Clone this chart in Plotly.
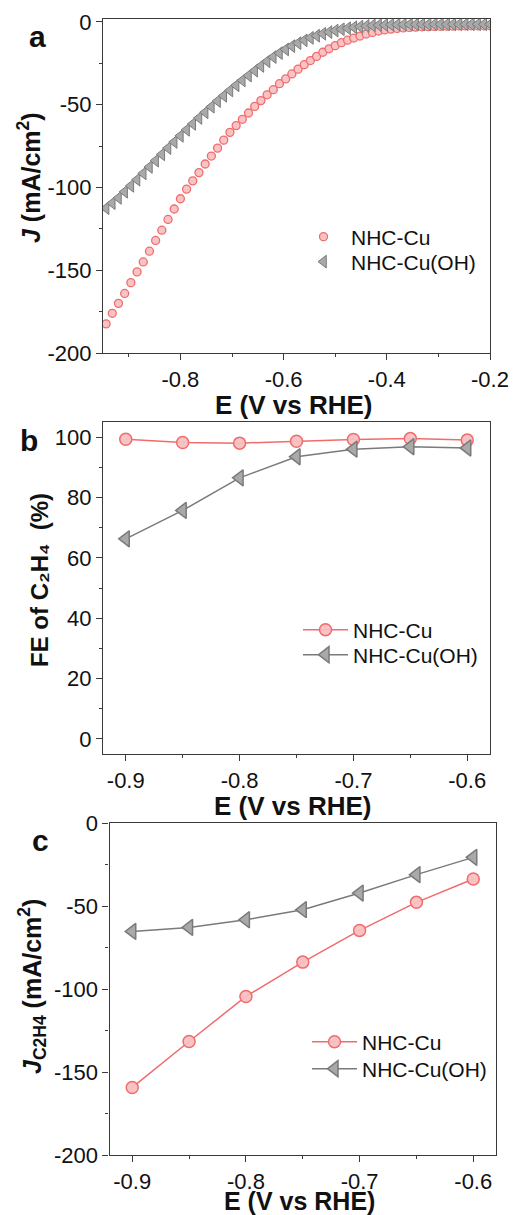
import plotly.graph_objects as go

W, H = 514, 1215

# ---------------- Data ----------------
# Panel a: LSV curves
E_lsv = [-0.944, -0.932, -0.920, -0.908, -0.896, -0.884, -0.872, -0.860, -0.848, -0.836,
         -0.824, -0.812, -0.800, -0.788, -0.776, -0.764, -0.752, -0.740, -0.728, -0.716,
         -0.704, -0.692, -0.680, -0.668, -0.656, -0.644, -0.632, -0.620, -0.608, -0.596,
         -0.584, -0.572, -0.560, -0.548, -0.536, -0.524, -0.512, -0.500, -0.488, -0.476,
         -0.464, -0.452, -0.440, -0.428, -0.416, -0.404, -0.392, -0.380, -0.368, -0.356,
         -0.344, -0.332, -0.320, -0.308, -0.296, -0.284, -0.272, -0.260, -0.248, -0.236,
         -0.224, -0.212, -0.200]
J_nhc_cu = [-182.4, -176.0, -170.0, -164.0, -157.5, -151.0, -145.0, -138.5, -132.0, -125.8,
            -119.3, -113.0, -106.8, -101.0, -96.0, -91.0, -85.8, -81.0, -76.2, -71.4,
            -66.7, -62.6, -58.8, -55.0, -51.0, -47.5, -44.0, -40.9, -37.3, -34.4,
            -31.4, -28.5, -25.8, -23.3, -20.8, -18.3, -16.2, -14.3, -12.5, -11.0,
            -9.7, -8.5, -7.3, -6.3, -5.5, -4.8, -4.3, -3.9, -3.6, -3.3,
            -3.1, -2.9, -2.8, -2.7, -2.6, -2.5, -2.5, -2.4, -2.4, -2.3,
            -2.3, -2.3, -2.3]
J_nhc_cuoh = [-112.5, -109.5, -106.3, -102.6, -99.0, -95.3, -91.5, -87.6, -83.8, -80.0,
              -76.2, -72.5, -68.8, -65.2, -61.6, -58.0, -54.6, -51.2, -47.8, -44.6,
              -41.4, -38.3, -35.3, -32.4, -29.4, -26.6, -23.8, -21.2, -18.8, -16.6,
              -14.6, -12.8, -11.1, -9.6, -8.3, -7.1, -6.1, -5.2, -4.4, -3.8,
              -3.2, -2.8, -2.4, -2.1, -1.9, -1.8, -1.7, -1.6, -1.6, -1.5,
              -1.5, -1.5, -1.5, -1.4, -1.4, -1.4, -1.4, -1.4, -1.4, -1.4,
              -1.4, -1.4, -1.4]

# Panels b and c
E_pts = [-0.90, -0.85, -0.80, -0.75, -0.70, -0.65, -0.60]
FE_nhc_cu = [99.3, 98.2, 98.0, 98.6, 99.2, 99.5, 99.0]
FE_nhc_cuoh = [66.3, 75.7, 86.5, 93.5, 96.0, 96.8, 96.4]
Jc2h4_nhc_cu = [-159.3, -131.6, -104.5, -83.8, -64.7, -47.8, -33.7]
Jc2h4_nhc_cuoh = [-65.3, -62.9, -58.3, -52.2, -42.2, -31.1, -20.7]

series_names = ["NHC-Cu", "NHC-Cu(OH)"]

# Tick labels
xa_ticks = [-0.8, -0.6, -0.4, -0.2]
xa_text = ["-0.8", "-0.6", "-0.4", "-0.2"]
ya_ticks = [-200, -150, -100, -50, 0]
ya_text = ["-200", "-150", "-100", "-50", "0"]
xb_ticks = [-0.9, -0.8, -0.7, -0.6]
xb_text = ["-0.9", "-0.8", "-0.7", "-0.6"]
yb_ticks = [0, 20, 40, 60, 80, 100]
yb_text = ["0", "20", "40", "60", "80", "100"]
yc_ticks = [-200, -150, -100, -50, 0]
yc_text = ["-200", "-150", "-100", "-50", "0"]

# ---------------- Styles ----------------
RED_LINE = "#f06c6c"
RED_FILL = "rgba(248,192,194,0.95)"
GREY_LINE = "#7a7a7a"
GREY_FILL = "#a9a9a9"
FONT = "Arial, Liberation Sans, Helvetica, sans-serif"
AXC = "#3a3a3a"


def px_x(p):
    return p / W


def px_y(p):
    return 1 - p / H


fig = go.Figure()

# Panel a
fig.add_trace(go.Scatter(x=E_lsv, y=J_nhc_cu, mode="markers", name=series_names[0],
                         marker=dict(symbol="circle", size=8, color=RED_FILL,
                                     line=dict(color=RED_LINE, width=1.3)),
                         xaxis="x", yaxis="y", legend="legend"))
fig.add_trace(go.Scatter(x=E_lsv, y=J_nhc_cuoh, mode="markers", name=series_names[1],
                         marker=dict(symbol="triangle-left", size=11, color=GREY_FILL,
                                     line=dict(color=GREY_LINE, width=1)),
                         xaxis="x", yaxis="y", legend="legend4"))
# Panel b
fig.add_trace(go.Scatter(x=E_pts, y=FE_nhc_cu, mode="lines+markers", name=series_names[0],
                         line=dict(color=RED_LINE, width=1.5),
                         marker=dict(symbol="circle", size=12, color=RED_FILL,
                                     line=dict(color=RED_LINE, width=1.5)),
                         xaxis="x2", yaxis="y2", legend="legend2"))
fig.add_trace(go.Scatter(x=E_pts, y=FE_nhc_cuoh, mode="lines+markers", name=series_names[1],
                         line=dict(color=GREY_LINE, width=1.5),
                         marker=dict(symbol="triangle-left", size=14, color=GREY_FILL,
                                     line=dict(color=GREY_LINE, width=1.5)),
                         xaxis="x2", yaxis="y2", legend="legend5"))
# Panel c
fig.add_trace(go.Scatter(x=E_pts, y=Jc2h4_nhc_cu, mode="lines+markers", name=series_names[0],
                         line=dict(color=RED_LINE, width=1.5),
                         marker=dict(symbol="circle", size=12, color=RED_FILL,
                                     line=dict(color=RED_LINE, width=1.5)),
                         xaxis="x3", yaxis="y3", legend="legend3"))
fig.add_trace(go.Scatter(x=E_pts, y=Jc2h4_nhc_cuoh, mode="lines+markers", name=series_names[1],
                         line=dict(color=GREY_LINE, width=1.5),
                         marker=dict(symbol="triangle-left", size=14, color=GREY_FILL,
                                     line=dict(color=GREY_LINE, width=1.5)),
                         xaxis="x3", yaxis="y3", legend="legend6"))


def axis(domain, rng, tickvals, ticktext, minor_tick0, minor_dtick, anchor):
    return dict(domain=domain, range=rng, anchor=anchor, showgrid=False, zeroline=False,
                showline=True, linecolor=AXC, linewidth=1.3, mirror=True,
                ticks="outside", ticklen=6, tickwidth=1.2, tickcolor=AXC,
                tickmode="array", tickvals=tickvals, ticktext=ticktext,
                tickfont=dict(family=FONT, size=22, color="#111"),
                automargin=False,
                minor=dict(ticks="outside", ticklen=3, tickwidth=1, tickcolor=AXC,
                           tick0=minor_tick0, dtick=minor_dtick, showgrid=False))


dom_ab_x = [px_x(103), px_x(490)]
dom_c_x = [px_x(109.5), px_x(496)]
dom_a_y = [px_y(353), px_y(19)]
dom_b_y = [px_y(754), px_y(422)]
dom_c_y = [px_y(1155), px_y(823)]


def leg(xpx, ypx):
    return dict(x=px_x(xpx), y=px_y(ypx), itemwidth=45,
                font=dict(family=FONT, size=21, color="#111"), bgcolor="rgba(0,0,0,0)",
                borderwidth=0, xanchor="left", yanchor="middle", tracegroupgap=0)


fig.update_layout(
    width=W, height=H,
    margin=dict(l=0, r=0, t=0, b=0, pad=0, autoexpand=False),
    paper_bgcolor="white", plot_bgcolor="white",
    showlegend=True,
    xaxis=axis(dom_ab_x, [-0.95, -0.2], xa_ticks, xa_text, -0.9, 0.1, "y"),
    yaxis=axis(dom_a_y, [-200, 1.8], ya_ticks, ya_text, -175, 25, "x"),
    xaxis2=axis(dom_ab_x, [-0.92, -0.58], xb_ticks, xb_text, -0.9, 0.05, "y2"),
    yaxis2=axis(dom_b_y, [-5, 105], yb_ticks, yb_text, 0, 10, "x2"),
    xaxis3=axis(dom_c_x, [-0.92, -0.58], xb_ticks, xb_text, -0.9, 0.05, "y3"),
    yaxis3=axis(dom_c_y, [-200, 0], yc_ticks, yc_text, -175, 25, "x3"),
    legend=leg(296, 237),
    legend4=leg(296, 262),
    legend2=leg(298, 630),
    legend5=leg(298, 655),
    legend3=leg(307, 1042),
    legend6=leg(307, 1069),
)

TITLE_FONT = dict(family=FONT, size=25, color="#111")


def ann(text, x, y, angle=0, size=None):
    f = dict(TITLE_FONT)
    if size:
        f["size"] = size
    fig.add_annotation(text=text, x=px_x(x), y=px_y(y), xref="paper", yref="paper",
                       showarrow=False, textangle=angle, font=f,
                       xanchor="center", yanchor="middle")


# x-axis titles
ann("<b>E (V vs RHE)</b>", 294, 405, size=26)
ann("<b>E (V vs RHE)</b>", 293, 806, size=26)
ann("<b>E (V vs RHE)</b>", 299, 1201, size=25)
# y-axis titles
ann("<b><i>J</i> (mA/cm<sup>2</sup>)</b>", 29, 178, angle=-90)
ann("<b>FE of C\u2082H\u2084\u00a0 (%)</b>", 39, 580, angle=-90, size=24)
ann("<b><i>J</i><sub>C2H4</sub> (mA/cm<sup>2</sup>)</b>", 32, 987, angle=-90)
# panel labels
ann("<b>a</b>", 37, 36, size=30)
ann("<b>b</b>", 29, 440, size=30)
ann("<b>c</b>", 40, 840, size=30)

fig.write_html(
    "out.html",
    config={"displayModeBar": False},
    post_script="document.body.style.margin='0';document.body.style.overflow='hidden';"
                "document.documentElement.style.overflow='hidden';",
)
